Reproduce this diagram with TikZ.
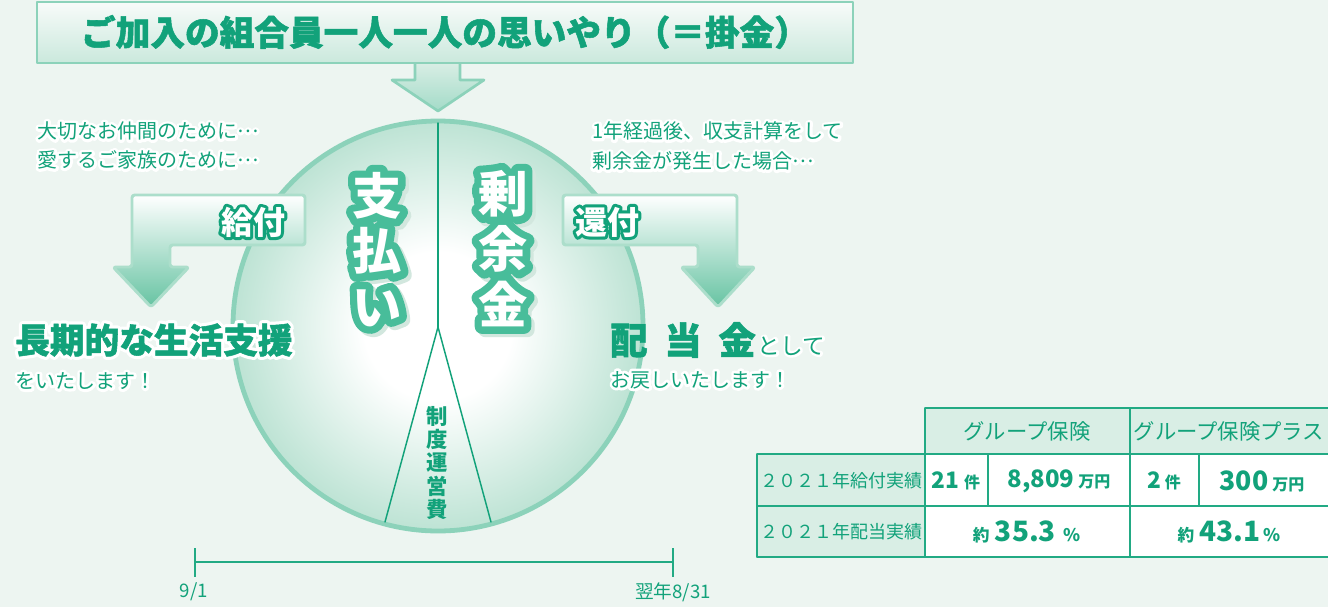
\documentclass[tikz,border=0pt]{standalone}
\usepackage{fontspec}
\setmainfont{Noto Sans CJK JP}
\newfontfamily\olBig{Noto Sans CJK JP}[FakeBold=30]
\newfontfamily\olMid{Noto Sans CJK JP}[FakeBold=19]
\newfontfamily\haloF{Noto Sans CJK JP}[FakeBold=28]
\newfontfamily\haloBig{Noto Sans CJK JP}[FakeBold=20]
\newfontfamily\heavy{Noto Sans CJK JP}[FakeBold=1.5]
\usetikzlibrary{calc}
\definecolor{bg}{HTML}{EDF5F1}
\definecolor{g}{HTML}{12A27A}
\definecolor{ol}{HTML}{48BD9A}
\definecolor{shd}{HTML}{D2E7DE}
\definecolor{mint}{HTML}{BDE3D4}
\definecolor{ringc}{HTML}{8CD2BA}
\definecolor{abord}{HTML}{ACDECB}
\definecolor{ahead}{HTML}{66C3A2}
\definecolor{amid}{HTML}{D3EDE3}
\definecolor{hdr}{HTML}{D9EEE5}
\definecolor{tline}{HTML}{22AA84}
\pgfdeclareradialshading{ball}{\pgfpoint{0bp}{0bp}}{color(0bp)=(white); color(9bp)=(white); color(25bp)=(mint); color(50bp)=(mint)}
% outlined big white characters with soft shadow
\newcommand\bigc[1]{\rlap{\hspace*{2.5pt}\raisebox{-2.5pt}{\color{shd}\olBig #1}}\rlap{\color{ol}\olBig #1}{\color{white}#1}}
% white letters with green outline
\newcommand\wtitle[1]{\rlap{\color{g}\olMid #1}{\color{white}#1}}
% green letters with white halo
\newcommand\halo[1]{\rlap{\color{white}\haloF #1}{\color{g}#1}}
\newcommand\halob[1]{\rlap{\color{white}\haloBig #1}{\color{g}#1}}
\newcommand\midell{\raisebox{0.3em}{…}}
\tikzset{
  arrowbox/.style={draw=abord, line width=2.2pt, rounded corners=2pt, top color=white, middle color=amid, bottom color=ahead},
  cellline/.style={draw=tline, line width=1pt},
  small/.style={font=\fontsize{15}{18}\selectfont, inner sep=0pt},
  tl/.style={draw=tline, line width=1.5pt},
}
\begin{document}
\begin{tikzpicture}[x=0.75pt, y=-0.75pt, line join=round, line cap=round]
\path[use as bounding box, fill=bg] (0,0) rectangle (1328,607);

% top arrow and banner
\draw[draw=ringc, line width=2pt, line cap=butt, top color=hdr, bottom color=ringc!80!white]
  (415,62) -- (460,62) -- (460,80) -- (484,80) -- (438,111) -- (392,80) -- (415,80) -- cycle;
\draw[draw=ringc, line width=2.2pt, top color=white!60!bg, bottom color=mint!80!white] (37,2) rectangle (853,63);
\node[text=g, font=\heavy\bfseries\fontsize{26}{28}\selectfont] (title) at (445,32) {ご加入の組合員一人一人の思いやり（＝掛金）};

% circle
\path[draw=ringc, line width=3.6pt, shading=ball] (438,326) circle (153.75pt);
\coordinate (ctop) at (438,123);
\coordinate (cmid) at (438,327);
\coordinate (cbl) at (385,522);
\coordinate (cbr) at (491,522);
\draw[draw=g, line width=1.1pt] (ctop) -- (cmid);
\draw[draw=g, line width=1.1pt] (cbl) -- (cmid) -- (cbr);

\node[font=\bfseries\fontsize{37}{41.5}\selectfont, align=center, inner sep=0pt] (pay) at (377,251) {\bigc{支}\\\bigc{払}\\\bigc{い}};
\node[font=\bfseries\fontsize{37}{41.5}\selectfont, align=center, inner sep=0pt] (surplus) at (503,250) {\bigc{剰}\\\bigc{余}\\\bigc{金}};
\node[text=g, font=\bfseries\fontsize{16}{17.6}\selectfont, align=center, inner sep=0pt] (admin) at (437,463) {制\\度\\運\\営\\費};

% left side
\node[small, anchor=west] (l1) at (37,131) {\halo{大切なお仲間のために\midell}};
\node[small, anchor=west] (l2) at (37,160) {\halo{愛するご家族のために\midell}};
\draw[arrowbox] (132,195) -- (305,195) -- (305,245) -- (170,245) -- (170,267) -- (189,267) -- (151,307) -- (113,267) -- (132,267) -- cycle;
\node[font=\bfseries\fontsize{24}{26}\selectfont, inner sep=0pt] (gift) at (253,222) {\wtitle{給付}};
\node[font=\heavy\bfseries\fontsize{26}{30}\selectfont, anchor=west, inner sep=0pt] (lmain) at (15,340) {\halob{長期的な生活支援}};
\node[small, anchor=west] (lsub) at (15,381) {\halo{をいたします！}};

% right side
\node[small, anchor=west] (r1) at (592,131) {\halo{1年経過後、収支計算をして}};
\node[small, anchor=west] (r2) at (592,161) {\halo{剰余金が発生した場合\midell}};
\draw[arrowbox] (563,195) -- (737,195) -- (737,267) -- (755,267) -- (718,307) -- (681,267) -- (698,267) -- (698,245) -- (563,245) -- cycle;
\node[font=\bfseries\fontsize{24}{26}\selectfont, inner sep=0pt] (refund) at (607,222) {\wtitle{還付}};
\node[anchor=west, inner sep=0pt] (rmain) at (610,340) {\halob{{\heavy\bfseries\fontsize{28}{30}\selectfont 配\hspace{0.45em}当\hspace{0.45em}金}\hspace{0.15em}{\fontsize{17}{20}\selectfont として}}};
\node[small, anchor=west] (rsub) at (610,380) {\halo{お戻しいたします！}};

% table
\fill[hdr] (925,408) rectangle (1340,454);
\fill[hdr] (757,454) rectangle (925,557);
\fill[white] (925,454) rectangle (1340,557);
\draw[cellline] (925,408) -- (1340,408);
\draw[cellline] (925,408) -- (925,557);
\draw[cellline] (1130,408) -- (1130,557);
\draw[cellline] (757,454) -- (1340,454);
\draw[cellline] (757,506) -- (1340,506);
\draw[cellline] (757,557) -- (1340,557);
\draw[cellline] (757,454) -- (757,557);
\draw[cellline] (988,454) -- (988,506);
\draw[cellline] (1199,454) -- (1199,506);
\node[text=g, font=\fontsize{16}{18}\selectfont] (h1) at (1027,431) {グループ保険};
\node[text=g, font=\fontsize{16}{18}\selectfont] (h2) at (1229,431) {グループ保険プラス};
\node[text=g, font=\fontsize{13.5}{16}\selectfont] (rl1) at (841,481) {２０２１年給付実績};
\node[text=g, font=\fontsize{13.5}{16}\selectfont] (rl2) at (841,532) {２０２１年配当実績};
\node[text=g, font=\bfseries] (c11) at (956,481) {{\fontsize{17}{20}\selectfont 21}\hspace{0.35em}{\fontsize{12}{14}\selectfont 件}};
\node[text=g, font=\bfseries] (c12) at (1059,481) {{\fontsize{18}{20}\selectfont 8,809}\hspace{0.3em}{\fontsize{12}{14}\selectfont 万円}};
\node[text=g, font=\bfseries] (c13) at (1164,481) {{\fontsize{17}{20}\selectfont 2}\hspace{0.3em}{\fontsize{12}{14}\selectfont 件}};
\node[text=g, font=\bfseries] (c14) at (1262,481) {{\fontsize{20}{22}\selectfont 300}\hspace{0.3em}{\fontsize{12}{14}\selectfont 万円}};
\node[text=g, font=\bfseries] (c21) at (1027,532) {{\fontsize{12.5}{14}\selectfont 約}\hspace{0.4em}{\fontsize{21}{24}\selectfont 35.3}\hspace{0.6em}{\fontsize{13}{14}\selectfont \%}};
\node[text=g, font=\bfseries] (c22) at (1229,532) {{\fontsize{12.5}{14}\selectfont 約}\hspace{0.4em}{\fontsize{21}{24}\selectfont 43.1}\hspace{0.2em}{\fontsize{13}{14}\selectfont \%}};

% timeline
\coordinate (t0) at (195,562);
\coordinate (t1) at (673,562);
\draw[tl, line cap=butt] (t0) -- (t1);
\draw[tl, line cap=butt] ($(t0)+(0,-14)$) -- ($(t0)+(0,15)$);
\draw[tl, line cap=butt] ($(t1)+(0,-14)$) -- ($(t1)+(0,15)$);
\node[text=g, font=\fontsize{14}{16}\selectfont] (d0) at (194,592) {9/1};
\node[text=g, font=\fontsize{14}{16}\selectfont] (d1) at (673,592) {翌年8/31};
\end{tikzpicture}
\end{document}
